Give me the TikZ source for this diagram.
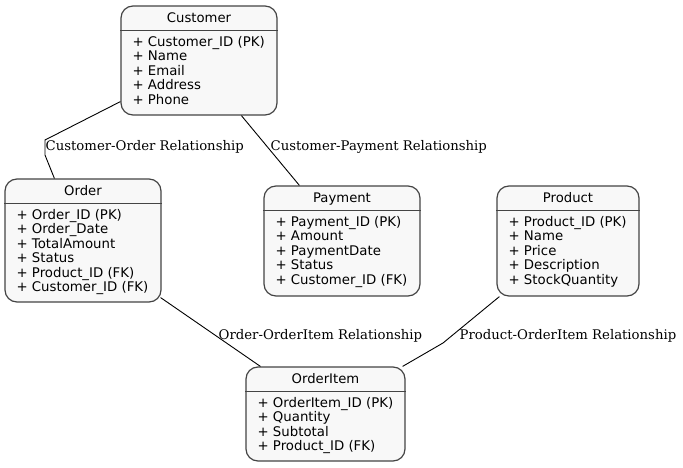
\documentclass[tikz,border=0pt]{standalone}
\usepackage{fontspec}
\setmainfont{DejaVu Serif}
\newfontfamily\boxfont{DejaVu Sans}
\usetikzlibrary{calc}
\definecolor{boxgray}{HTML}{444444}
\definecolor{boxfill}{HTML}{F8F8F8}
\tikzset{
  entity/.style={draw=boxgray, fill=boxfill, line width=1.2pt, rounded corners=12pt, inner sep=0pt},
  divider/.style={draw=boxgray, line width=1.2pt},
  titletext/.style={font=\boxfont\fontsize{13.2}{14.5}\selectfont, inner sep=0pt, anchor=base},
  attrtext/.style={font=\boxfont\fontsize{13.3}{14.5}\selectfont, inner sep=0pt, anchor=base west},
  edge/.style={draw=black, line width=0.9pt},
  edgelabel/.style={font=\fontsize{13.25}{14}\selectfont, inner sep=0pt, anchor=base west}
}
\newcommand\entitybox[7]{%
  \node[entity, minimum width=#4pt, minimum height=#5pt] (#1) at (#2,#3) {};
  \draw[divider] ($(#1.north west)+(0,25)$) -- ($(#1.north east)+(0,25)$);
  \node[titletext] (#1-title) at ($(#1.north)+(0,16.7)$) {#6};
  \foreach \a [count=\i] in {#7} {
    \node[attrtext] (#1-a\i) at ($(#1.north west)+(12,{41+14.5*(\i-1)})$) {\a};
  }
}
\begin{document}
\begin{tikzpicture}[x=1pt,y=-1pt]
\useasboundingbox (0,0) rectangle (683,468);

\entitybox{cust}{199}{60.5}{156}{109}{Customer}{+ Customer\_ID (PK),+ Name,+ Email,+ Address,+ Phone}
\entitybox{order}{83}{240.5}{156}{123}{Order}{+ Order\_ID (PK),+ Order\_Date,+ TotalAmount,+ Status,+ Product\_ID (FK),+ Customer\_ID (FK)}
\entitybox{pay}{342}{241}{156}{110}{Payment}{+ Payment\_ID (PK),+ Amount,+ PaymentDate,+ Status,+ Customer\_ID (FK)}
\entitybox{prod}{568}{241}{142}{110}{Product}{+ Product\_ID (PK),+ Name,+ Price,+ Description,+ StockQuantity}
\entitybox{oi}{325.5}{414}{159}{94}{OrderItem}{+ OrderItem\_ID (PK),+ Quantity,+ Subtotal,+ Product\_ID (FK)}

\coordinate (co1) at (45,140);
\coordinate (co2) at (45,155);
\coordinate (po1) at (443,343);

\draw[edge] ($(cust.south west)+(0,-14)$) -- (co1) -- (co2) -- ($(order.north west)+(50,0)$);
\draw[edge] ($(cust.south west)+(121,0)$) -- ($(pay.north west)+(36,0)$);
\draw[edge] ($(order.south east)+(-1,-5)$) -- ($(oi.north west)+(15,0)$);
\draw[edge] ($(prod.south west)+(3,0)$) -- (po1) -- ($(oi.north east)+(-3,0)$);

\node[edgelabel] (l1) at (45.5,151) {Customer-Order Relationship};
\node[edgelabel] (l2) at (270.5,150.5) {Customer-Payment Relationship};
\node[edgelabel] (l3) at (218.5,339) {Order-OrderItem Relationship};
\node[edgelabel] (l4) at (459.5,339) {Product-OrderItem Relationship};
\end{tikzpicture}
\end{document}
